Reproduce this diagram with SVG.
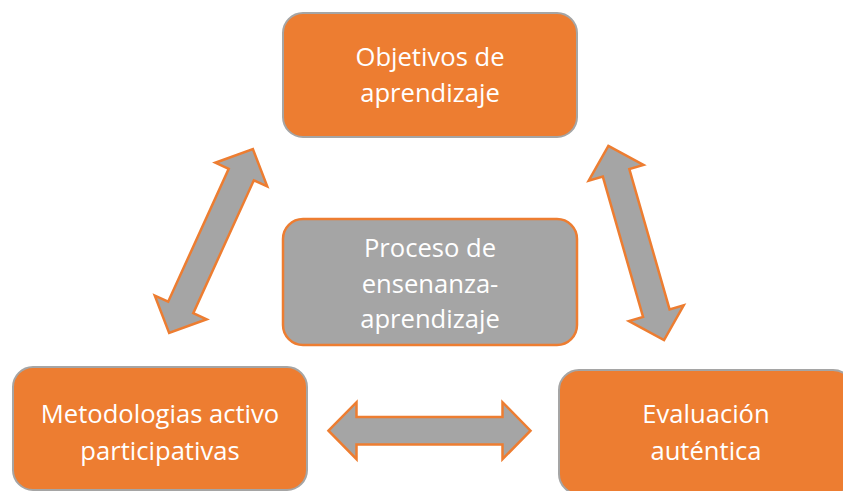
<svg xmlns="http://www.w3.org/2000/svg" xmlns:xlink="http://www.w3.org/1999/xlink" width="843" height="491" viewBox="0 0 843 491">
<style>
.orange{fill:#ed7d31;stroke:#a5a5a5;stroke-width:2}
.grey{fill:#a5a5a5;stroke:#ed7d31;stroke-width:2.5}
.arrow{fill:#a5a5a5;stroke:#ed7d31;stroke-width:2.5;stroke-linejoin:miter}
.t{font-family:"Open Sans","Noto Sans","Liberation Sans",sans-serif;font-size:25.6px;fill:#ffffff;text-anchor:middle}
</style>
<defs>
<path id="dblarrow" d="M -101,0 L -73,-28.5 L -73,-13.8 L 73,-13.8 L 73,-28.5 L 101,0 L 73,28.5 L 73,13.8 L -73,13.8 L -73,28.5 Z"/>
</defs>
<rect width="843" height="491" fill="#ffffff"/>
<g id="connectors">
<use xlink:href="#dblarrow" class="arrow" transform="translate(211,241) rotate(-65.5)"/>
<use xlink:href="#dblarrow" class="arrow" transform="translate(636.2,243) rotate(74)"/>
<use xlink:href="#dblarrow" class="arrow" transform="translate(429.5,430.7)"/>
</g>
<g id="objetivos">
<rect class="orange" x="283" y="13" width="294" height="124" rx="20" ry="20"/>
<text class="t" x="430" y="66">Objetivos de</text>
<text class="t" x="430" y="102">aprendizaje</text>
</g>
<g id="proceso">
<rect class="grey" x="283" y="219" width="294" height="126" rx="20" ry="20"/>
<text class="t" x="430" y="257">Proceso de</text>
<text class="t" x="430" y="293">ensenanza-</text>
<text class="t" x="430" y="328">aprendizaje</text>
</g>
<g id="metodologias">
<rect class="orange" x="13" y="367" width="294" height="123" rx="20" ry="20"/>
<text class="t" x="160" y="423">Metodologias activo</text>
<text class="t" x="160" y="460">participativas</text>
</g>
<g id="evaluacion">
<rect class="orange" x="559" y="370" width="294" height="124" rx="20" ry="20"/>
<text class="t" x="706" y="423">Evaluación</text>
<text class="t" x="706" y="460">auténtica</text>
</g>
</svg>
